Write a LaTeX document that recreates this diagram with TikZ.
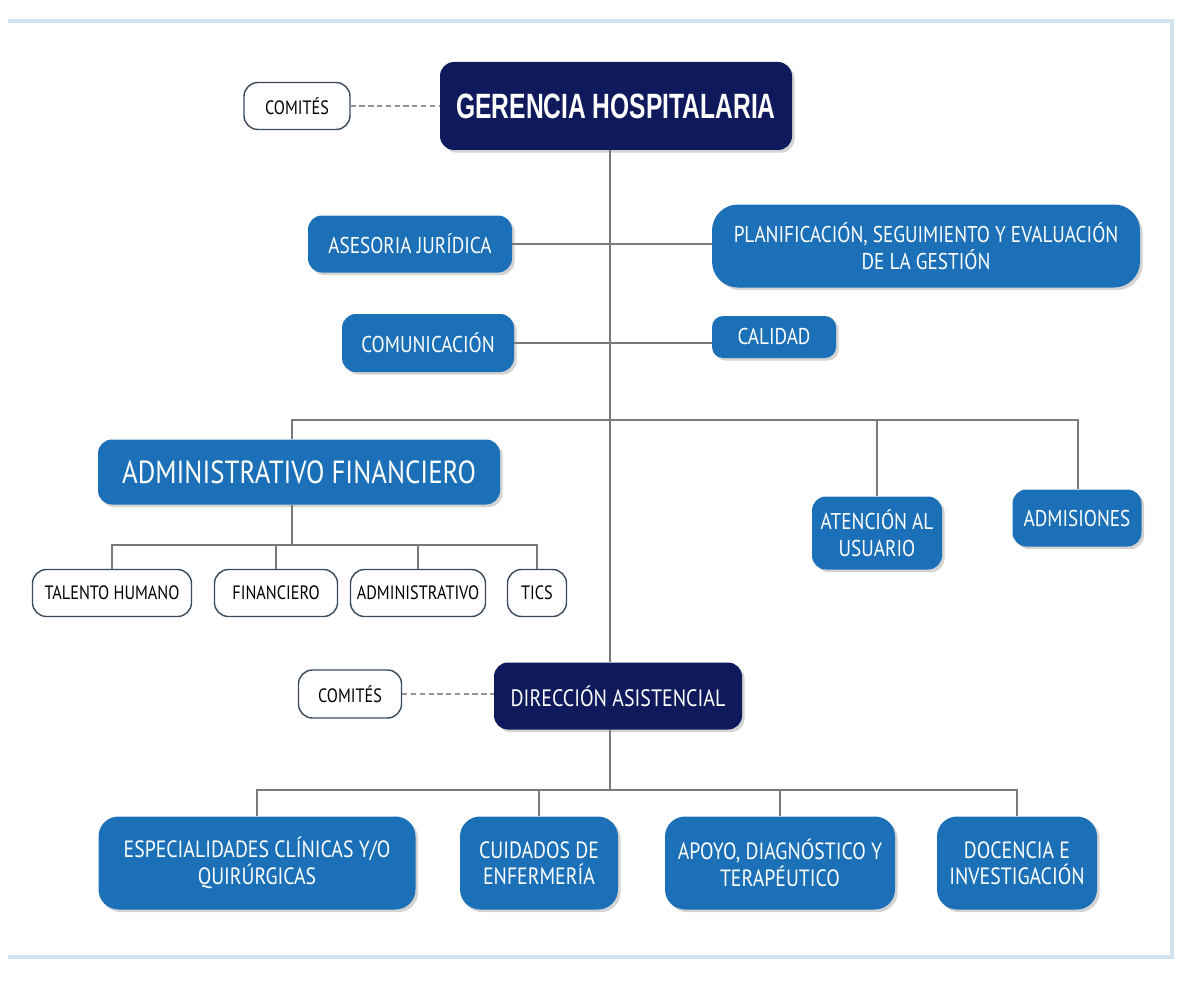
\documentclass[tikz,border=0pt]{standalone}
\usepackage{fontspec}
\setmainfont{PT Sans}[FakeStretch=0.84]
\newfontfamily\titlefont{Liberation Sans}[FakeStretch=0.7]
\usetikzlibrary{shadows}
\newdimen\px \px=0.02cm
\definecolor{blueA}{HTML}{1B70B8}
\definecolor{navy}{HTML}{0F1A5C}
\definecolor{linegray}{HTML}{7A7A7A}
\definecolor{framec}{HTML}{D3E3EE}
\definecolor{wborder}{HTML}{3A4A5A}
\begin{document}
\begin{tikzpicture}[x=0.02cm,y=-0.02cm,
  shad/.style={drop shadow={opacity=0.35,shadow xshift=1.5pt,shadow yshift=-1.5pt}},
  bluebox/.style={shad,fill=blueA,text=white,rounded corners=14\px,inner sep=0pt,align=center,
    font=\fontsize{13}{15.5}\selectfont},
  bigblue/.style={bluebox,rounded corners=20\px,minimum height=93\px,font=\fontsize{13.4}{15}\selectfont},
  navybox/.style={shad,fill=navy,text=white,rounded corners=14\px,inner sep=0pt,align=center},
  whitebox/.style={draw=wborder,line width=0.8pt,fill=white,rounded corners=14\px,inner sep=0pt,
    font=\fontsize{11}{13}\selectfont},
  conn/.style={draw=linegray,line width=1.6pt},
  dashconn/.style={draw=linegray!80,line width=0.9pt,dash pattern=on 3pt off 2pt}]
\useasboundingbox (0,0) rectangle (1185,983);
% frame
\draw[framec,line width=2pt] (8,21) -- (1172,21) -- (1172,957) -- (8,957);
% coordinates
\coordinate (trunk) at (610,0);
\coordinate (b1L) at (292,420);
\coordinate (b1R) at (1078,420);
\coordinate (b2) at (0,545);
\coordinate (b3) at (0,790);
% nodes
\node[navybox,minimum width=352\px,minimum height=88\px,font=\titlefont\bfseries\fontsize{20}{24}\selectfont] (gh) at (616,106) {GERENCIA HOSPITALARIA};
\node[whitebox,minimum width=106\px,minimum height=47\px] (com1) at (297,106) {COMITÉS};
\node[bluebox,minimum width=204\px,minimum height=57\px] (aj) at (410,244) {ASESORIA JURÍDICA};
\node[bluebox,minimum width=428\px,minimum height=83\px,rounded corners=26\px] (plan) at (926,246) {PLANIFICACIÓN, SEGUIMIENTO Y EVALUACIÓN\\DE LA GESTIÓN};
\node[bluebox,minimum width=172\px,minimum height=58\px] (comu) at (428,343) {COMUNICACIÓN};
\node[bluebox,minimum width=124\px,minimum height=42\px,rounded corners=11\px] (cal) at (774,337) {CALIDAD};
\node[bluebox,minimum width=402\px,minimum height=65\px,font=\fontsize{18.2}{21}\selectfont] (af) at (299,472) {ADMINISTRATIVO FINANCIERO};
\node[bluebox,minimum width=130\px,minimum height=73\px] (atn) at (877,533) {ATENCIÓN AL\\USUARIO};
\node[bluebox,minimum width=129\px,minimum height=57\px] (adm) at (1077,518) {ADMISIONES};
\node[whitebox,minimum width=159\px,minimum height=47\px] (th) at (112,593) {TALENTO HUMANO};
\node[whitebox,minimum width=123\px,minimum height=47\px] (fin) at (276,593) {FINANCIERO};
\node[whitebox,minimum width=135\px,minimum height=47\px] (adv) at (418,593) {ADMINISTRATIVO};
\node[whitebox,minimum width=59\px,minimum height=47\px] (tics) at (537,593) {TICS};
\node[navybox,minimum width=248\px,minimum height=67\px,font=\fontsize{13.5}{16}\selectfont] (dir) at (618,696) {DIRECCIÓN ASISTENCIAL};
\node[whitebox,minimum width=103\px,minimum height=48\px] (com2) at (350,694) {COMITÉS};
\node[bigblue,minimum width=317\px] (esp) at (257,863) {ESPECIALIDADES CLÍNICAS Y/O\\QUIRÚRGICAS};
\node[bigblue,minimum width=158\px] (cui) at (539,863) {CUIDADOS DE\\ENFERMERÍA};
\node[bigblue,minimum width=230\px] (apo) at (780,863) {APOYO, DIAGNÓSTICO Y\\TERAPÉUTICO};
\node[bigblue,minimum width=160\px] (doc) at (1017,863) {DOCENCIA E\\INVESTIGACIÓN};
% connectors
\draw[conn] (gh.south -| trunk) -- (dir.north -| trunk);
\draw[conn] (aj.east) -- (aj.east -| plan.west);
\draw[conn] (comu.east) -- (comu.east -| cal.west);
\draw[conn] (af.north -| b1L) -- (b1L) -- (b1R) -- (adm.north -| b1R);
\draw[conn] (atn.north) -- (atn.north |- b1L);
\draw[conn] (af.south -| b1L) -- (b1L |- b2);
\draw[conn] (th.north) -- (th.north |- b2) -| (tics.north);
\draw[conn] (fin.north) -- (fin.north |- b2);
\draw[conn] (adv.north) -- (adv.north |- b2);
\draw[conn] (dir.south -| trunk) -- (trunk |- b3);
\draw[conn] (esp.north) -- (esp.north |- b3) -| (doc.north);
\draw[conn] (cui.north) -- (cui.north |- b3);
\draw[conn] (apo.north) -- (apo.north |- b3);
\draw[dashconn] (com1.east) -- (com1.east -| gh.west);
\draw[dashconn] (com2.east) -- (com2.east -| dir.west);
\end{tikzpicture}
\end{document}
